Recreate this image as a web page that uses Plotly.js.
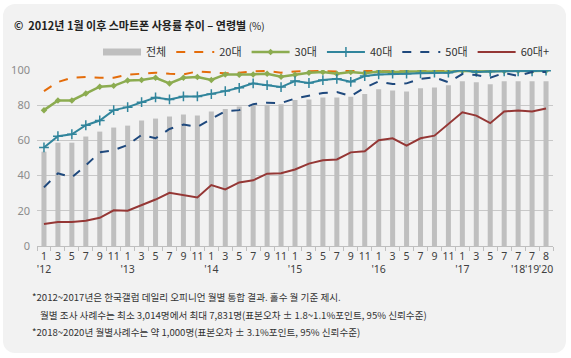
<!DOCTYPE html>
<html><head><meta charset="utf-8">
<script src="https://cdn.plot.ly/plotly-3.0.1.min.js"></script>
<style>
html,body{margin:0;padding:0;background:#ffffff;}
#wrap{position:relative;width:571px;height:358px;}
#bg{position:absolute;left:3px;top:4px;width:563px;height:349px;background:#f2f2f2;border-radius:12px;}
#chart{position:absolute;left:0;top:0;width:571px;height:358px;}
</style></head>
<body><div id="wrap"><div id="bg"></div><div id="chart"></div></div>
<script>
const periods = ['2012.01','2012.03','2012.05','2012.07','2012.09','2012.11',
 '2013.01','2013.03','2013.05','2013.07','2013.09','2013.11',
 '2014.01','2014.03','2014.05','2014.07','2014.09','2014.11',
 '2015.01','2015.03','2015.05','2015.07','2015.09','2015.11',
 '2016.01','2016.03','2016.05','2016.07','2016.09','2016.11',
 '2017.01','2017.03','2017.05','2017.07','2018.07','2019.07','2020.08'];
const tickLabels = ["1<br>'12",'3','5','7','9','11',"1<br>'13",'3','5','7','9','11',
 "1<br>'14",'3','5','7','9','11',"1<br>'15",'3','5','7','9','11',
 "1<br>'16",'3','5','7','9','11',"1<br>'17",'3','5','7',"7<br>'18","7<br>'19","8<br>'20"];
const total = [53.6,58.7,58.7,62.2,65.0,67.3,68.4,71.3,72.4,73.6,74.7,74.1,
 76.4,77.9,79.3,80.0,80.3,80.5,82.9,83.3,84.4,84.4,84.8,86.3,
 89.0,88.4,87.8,89.6,90.1,91.3,93.6,93.0,91.9,93.6,93.6,93.6,93.6];
const age20 = [88.0,93.2,95.6,96.0,95.6,95.6,97.3,97.7,98.5,97.9,97.5,99.2,
 98.5,98.1,98.5,99.2,99.4,98.5,99.2,99.4,99.4,99.2,99.6,99.4,
 99.4,99.6,99.2,99.8,99.6,99.4,99.8,99.4,99.6,99.8,99.6,99.8,99.6];
const age30 = [77.2,82.7,82.7,86.7,90.5,91.0,94.1,94.3,95.6,92.4,95.6,96.0,
 94.3,97.5,97.3,97.5,97.9,96.2,97.3,98.5,98.9,97.9,98.9,98.1,
 99.2,98.9,99.2,99.4,99.2,99.0,99.6,99.2,99.4,99.4,99.6,99.4,99.6];
const age40 = [56.0,62.4,63.5,68.6,71.3,77.2,78.9,81.7,84.4,83.3,85.0,85.0,
 86.3,88.0,89.9,92.4,91.4,90.3,93.7,92.6,94.3,95.0,93.3,96.6,
 97.5,97.9,97.9,98.1,98.5,98.5,100.0,98.9,99.1,99.3,99.3,99.3,99.6];
const age50 = [33.3,41.3,39.0,45.8,53.2,54.4,57.4,63.1,61.2,66.5,69.0,67.7,
 72.2,76.6,77.2,80.6,81.4,81.2,83.8,85.2,86.9,87.5,85.2,89.9,
 93.5,92.0,92.4,95.0,95.8,93.0,97.7,97.1,95.6,98.3,96.6,98.9,98.9];
const age60 = [12.5,13.7,13.7,14.3,16.0,20.3,20.0,23.2,26.4,30.2,29.1,27.6,
 34.6,32.1,36.1,37.3,41.1,41.3,43.5,46.8,48.7,49.2,53.2,53.8,
 60.1,61.2,57.0,61.2,62.7,69.6,76.0,74.1,69.8,76.4,77.0,76.4,78.1];
const seriesNames = ['전체','20대','30대','40대','50대','60대+'];

const L=37,R=18,T=70,B=112,W=571,H=358;
const pw=W-L-R, ph=H-T-B;
const px=x=>(x-L)/pw, py=y=>(T+ph-y)/ph;

const traces = [
 {type:'bar',x:periods,y:total,marker:{color:'#bfbfbf'},showlegend:false,name:seriesNames[0],hoverinfo:'skip'},
 {type:'scatter',mode:'lines',x:periods,y:periods.map(()=>null),name:seriesNames[0],line:{color:'#bfbfbf',width:7}},
 {type:'scatter',mode:'lines',x:periods,y:age20,name:seriesNames[1],line:{color:'#e46c0a',width:2,dash:'dash'}},
 {type:'scatter',mode:'lines+markers',x:periods,y:age30,name:seriesNames[2],line:{color:'#8cac50',width:2.5},marker:{symbol:'diamond',size:5,color:'#8cac50'}},
 {type:'scatter',mode:'lines+markers',x:periods,y:age40,name:seriesNames[3],line:{color:'#31859c',width:2},marker:{symbol:'cross-thin-open',size:7,line:{color:'#31859c',width:1.5}}},
 {type:'scatter',mode:'lines',x:periods,y:age50,name:seriesNames[4],line:{color:'#1f497d',width:2,dash:'dash'}},
 {type:'scatter',mode:'lines',x:periods,y:age60,name:seriesNames[5],line:{color:'#953735',width:2}}
];

const fnFont={family:'"Noto Sans CJK KR", "Noto Sans", sans-serif',size:9.6,color:'#333333'};
const layout = {
 width:W,height:H,margin:{l:L,r:R,t:T,b:B,pad:0,autoexpand:false},
 paper_bgcolor:'rgba(0,0,0,0)',plot_bgcolor:'rgba(0,0,0,0)',
 bargap:0.64,
 font:{family:'"Noto Sans CJK KR", "Noto Sans", sans-serif',size:11,color:'#333'},
 xaxis:{type:'category',tickvals:periods,ticktext:tickLabels,tickangle:0,
   tickson:'boundaries',ticks:'outside',ticklen:4,tickcolor:'#bfbfbf',
   showline:true,linecolor:'#bfbfbf',linewidth:1,showgrid:false,
   range:[-0.5,periods.length-0.5],
   tickfont:{family:'"Noto Sans", sans-serif',size:10.5,color:'#404040'}},
 yaxis:{range:[0,100],tickvals:[0,20,40,60,80,100],showgrid:true,gridcolor:'#c8c8c8',gridwidth:1,
   zeroline:false,showline:false,ticks:'',ticklabelstandoff:6,
   tickfont:{family:'"Noto Sans", sans-serif',size:11,color:'#8c8c8c'}},
 legend:{orientation:'h',x:px(98),xanchor:'left',y:py(52),yanchor:'middle',itemwidth:38,
   bgcolor:'rgba(0,0,0,0)',font:{family:'"Noto Sans CJK KR", sans-serif',size:11,color:'#333'},
   traceorder:'normal',itemclick:false},
 annotations:[
  {xref:'paper',yref:'paper',x:px(12),y:py(25),xanchor:'left',yanchor:'middle',showarrow:false,
   text:'<b>©  2012년 1월 이후 스마트폰 사용률 추이 – 연령별</b> <span style="font-size:10px">(%)</span>',
   font:{family:'"Noto Sans CJK KR", sans-serif',size:11,color:'#222'}},
  {xref:'paper',yref:'paper',x:px(30),y:py(297),xanchor:'left',yanchor:'middle',showarrow:false,
   text:'*2012~2017년은 한국갤럽 데일리 오피니언 월별 통합 결과. 홀수 월 기준 제시.',font:fnFont},
  {xref:'paper',yref:'paper',x:px(38),y:py(315),xanchor:'left',yanchor:'middle',showarrow:false,
   text:'월별 조사 사례수는 최소 3,014명에서 최대 7,831명(표본오차 ± 1.8~1.1%포인트, 95% 신뢰수준)',font:fnFont},
  {xref:'paper',yref:'paper',x:px(30),y:py(332),xanchor:'left',yanchor:'middle',showarrow:false,
   text:'*2018~2020년 월별사례수는 약 1,000명(표본오차 ± 3.1%포인트, 95% 신뢰수준)',font:fnFont}
 ]
};
Plotly.newPlot('chart',traces,layout,{displayModeBar:false,staticPlot:true});
</script></body></html>
